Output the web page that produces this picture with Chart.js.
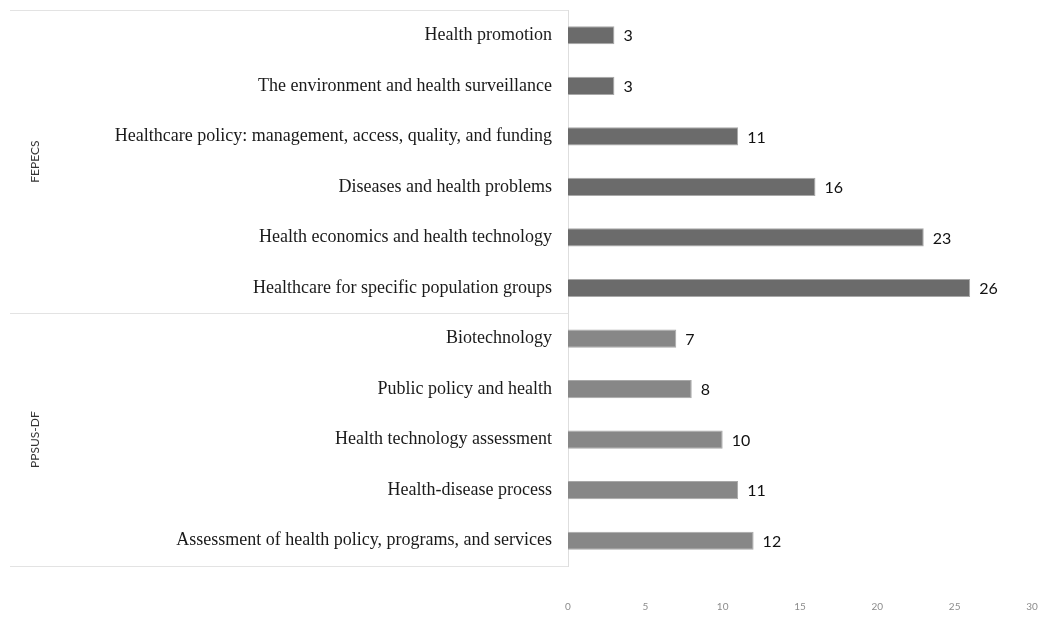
<!DOCTYPE html>
<html>
  <head>
    <script src="https://cdn.jsdelivr.net/npm/chart.js@4.4.0/dist/chart.umd.min.js"></script>
    <style>
      body { margin: 0; background: #fff; }
      canvas { display: block; }
    </style>
  </head>
  <body>
    <canvas id="barChart" width="1043" height="629" style="width:1043px;height:629px"></canvas>
    <script>
      var categories = [
        'Health promotion',
        'The environment and health surveillance',
        'Healthcare policy: management, access, quality, and funding',
        'Diseases and health problems',
        'Health economics and health technology',
        'Healthcare for specific population groups',
        'Biotechnology',
        'Public policy and health',
        'Health technology assessment',
        'Health-disease process',
        'Assessment of health policy, programs, and services'
      ];
      var values = [3, 3, 11, 16, 23, 26, 7, 8, 10, 11, 12];
      var groupNames = ['FEPECS', 'PPSUS-DF'];
      var groupSizes = [6, 5];
      var groupColors = ['#6b6b6b', '#878787'];
      var xTicks = [0, 5, 10, 15, 20, 25, 30];

      var barColors = [];
      groupSizes.forEach(function(n, g) {
        for (var i = 0; i < n; i++) barColors.push(groupColors[g]);
      });

      // value labels at the end of each bar
      var valueLabels = {
        id: 'valueLabels',
        afterDatasetsDraw: function(chart) {
          var ctx = chart.ctx;
          var meta = chart.getDatasetMeta(0);
          ctx.save();
          ctx.font = '16px Lato';
          ctx.fillStyle = '#111';
          ctx.textAlign = 'left';
          ctx.textBaseline = 'middle';
          meta.data.forEach(function(bar, i) {
            ctx.fillText(values[i], bar.x + 9, bar.y + 1);
          });
          ctx.restore();
        }
      };

      // group labels and separator lines on the left
      var groupLabels = {
        id: 'groupLabels',
        afterDraw: function(chart) {
          var ctx = chart.ctx;
          var area = chart.chartArea;
          var y = chart.scales.y;
          var half = (y.getPixelForValue(1) - y.getPixelForValue(0)) / 2;
          ctx.save();
          ctx.strokeStyle = '#e3e3e3';
          ctx.lineWidth = 1;
          var start = 0;
          var edges = [area.top];
          groupSizes.forEach(function(n) {
            start += n;
            edges.push(y.getPixelForValue(start - 1) + half);
          });
          edges.forEach(function(e) {
            var py = Math.round(e) + 0.5;
            ctx.beginPath();
            ctx.moveTo(10, py);
            ctx.lineTo(area.left, py);
            ctx.stroke();
          });
          ctx.font = '12px Lato';
          ctx.fillStyle = '#333';
          ctx.textAlign = 'center';
          ctx.textBaseline = 'middle';
          groupNames.forEach(function(name, g) {
            var mid = (edges[g] + edges[g + 1]) / 2;
            ctx.save();
            ctx.translate(35, mid);
            ctx.rotate(-Math.PI / 2);
            ctx.fillText(name, 0, 0);
            ctx.restore();
          });
          ctx.restore();
        }
      };

      var chart = new Chart(document.getElementById('barChart'), {
        type: 'bar',
        data: {
          labels: categories,
          datasets: [{
            data: values,
            backgroundColor: barColors,
            borderColor: '#a8a8a8',
            borderWidth: 1,
            categoryPercentage: 1,
            barPercentage: 0.36
          }]
        },
        options: {
          indexAxis: 'y',
          responsive: false,
          animation: false,
          layout: { padding: { top: 10, right: 11, bottom: 18, left: 0 } },
          plugins: { legend: { display: false }, tooltip: { enabled: false } },
          scales: {
            x: {
              min: 0,
              max: 30,
              afterBuildTicks: function(scale) {
                scale.ticks = xTicks.map(function(v) { return { value: v }; });
              },
              afterFit: function(scale) {
                scale.height = 45;
                scale.paddingLeft = 0;
                scale.paddingRight = 0;
              },
              grid: { display: false, drawTicks: false },
              border: { display: false },
              ticks: { font: { family: 'Lato', size: 10 }, color: '#8c8c8c', padding: 35, maxRotation: 0, autoSkip: false }
            },
            y: {
              afterFit: function(scale) {
                scale.width = 568;
                scale.paddingTop = 0;
                scale.paddingBottom = 0;
              },
              grid: { display: false, drawTicks: false },
              border: { color: '#dedede' },
              ticks: { font: { family: 'Liberation Serif', size: 18 }, color: '#1a1a1a', padding: 16, autoSkip: false }
            }
          }
        },
        plugins: [valueLabels, groupLabels]
      });
    </script>
  </body>
</html>
